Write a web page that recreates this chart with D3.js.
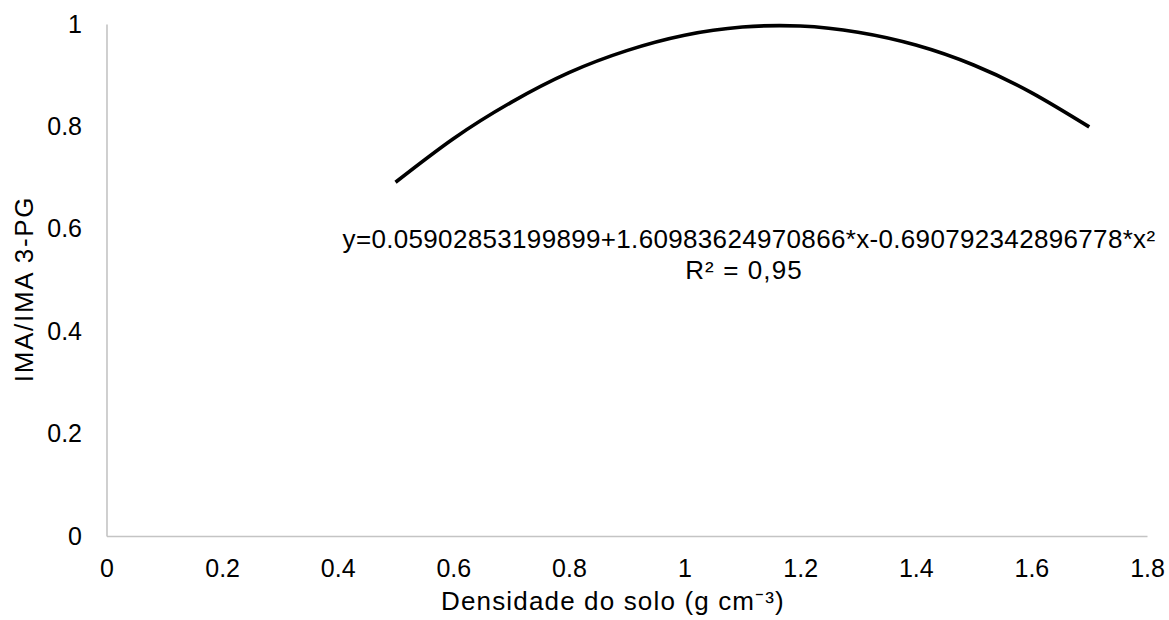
<!DOCTYPE html>
<html>
<head>
<meta charset="utf-8">
<script src="https://cdn.jsdelivr.net/npm/d3@7"></script>
<style>
  body { margin: 0; background: #fff; }
  svg { font-family: "Liberation Sans", Arial, sans-serif; }
</style>
</head>
<body>
<div id="canvas"></div>
<script>
// values
const densidade = [0.5, 0.6, 0.7, 0.8, 0.9, 1.0, 1.1, 1.2, 1.3, 1.4, 1.5, 1.6, 1.7];
const imaRatio = [0.691, 0.776, 0.847, 0.905, 0.948, 0.978, 0.994, 0.996, 0.984, 0.959, 0.920, 0.866, 0.799];

const xTicks = [0, 0.2, 0.4, 0.6, 0.8, 1, 1.2, 1.4, 1.6, 1.8];
const xTickLabels = ['0', '0.2', '0.4', '0.6', '0.8', '1', '1.2', '1.4', '1.6', '1.8'];
const yTicks = [0, 0.2, 0.4, 0.6, 0.8, 1];
const yTickLabels = ['0', '0.2', '0.4', '0.6', '0.8', '1'];

const equation = 'y=0.05902853199899+1.60983624970866*x-0.690792342896778*x²';
const r2Label = 'R² = 0,95';

const w = 1169;
const h = 620;

const svg = d3.select('#canvas')
  .append('svg')
  .attr('width', w)
  .attr('height', h);

const xScale = d3.scaleLinear()
  .domain([0, 1.8])
  .range([106.5, 1147]);

const yScale = d3.scaleLinear()
  .domain([0, 1])
  .range([536, 24]);

const xAxis = d3.axisBottom(xScale)
  .tickValues(xTicks)
  .tickFormat((d, i) => xTickLabels[i])
  .tickSize(0)
  .tickPadding(23);

const yAxis = d3.axisLeft(yScale)
  .tickValues(yTicks)
  .tickFormat((d, i) => yTickLabels[i])
  .tickSize(0)
  .tickPadding(24.5);

const gx = svg.append('g')
  .attr('transform', 'translate(0, ' + yScale(0) + ')')
  .call(xAxis);

const gy = svg.append('g')
  .attr('transform', 'translate(' + xScale(0) + ', 0)')
  .call(yAxis);

[gx, gy].forEach(g => {
  g.select('.domain').attr('stroke', '#c4c4c4').attr('stroke-width', 1.6);
  g.selectAll('text')
    .attr('fill', '#000')
    .style('font-size', '25px')
    .style('font-family', '"Liberation Sans", Arial, sans-serif');
});

const line = d3.line()
  .x((d, i) => xScale(densidade[i]))
  .y(d => yScale(d))
  .curve(d3.curveNatural);

svg.append('path')
  .datum(imaRatio)
  .attr('d', line)
  .attr('fill', 'none')
  .attr('stroke', '#000')
  .attr('stroke-width', 3.6);

// trendline label
svg.append('text')
  .attr('x', 749)
  .attr('y', 248)
  .attr('text-anchor', 'middle')
  .style('font-size', '26px')
  .style('letter-spacing', '0.33px')
  .text(equation);

svg.append('text')
  .attr('x', 744)
  .attr('y', 279)
  .attr('text-anchor', 'middle')
  .style('font-size', '26px')
  .style('letter-spacing', '1.1px')
  .text(r2Label);

svg.append('text')
  .attr('x', 613)
  .attr('y', 610)
  .attr('text-anchor', 'middle')
  .style('font-size', '26px')
  .style('letter-spacing', '1.15px')
  .text('Densidade do solo (g cm⁻³)');

svg.append('text')
  .attr('transform', 'translate(33, 289) rotate(-90)')
  .attr('text-anchor', 'middle')
  .style('font-size', '26px')
  .style('letter-spacing', '1.7px')
  .text('IMA/IMA 3-PG');
</script>
</body>
</html>
